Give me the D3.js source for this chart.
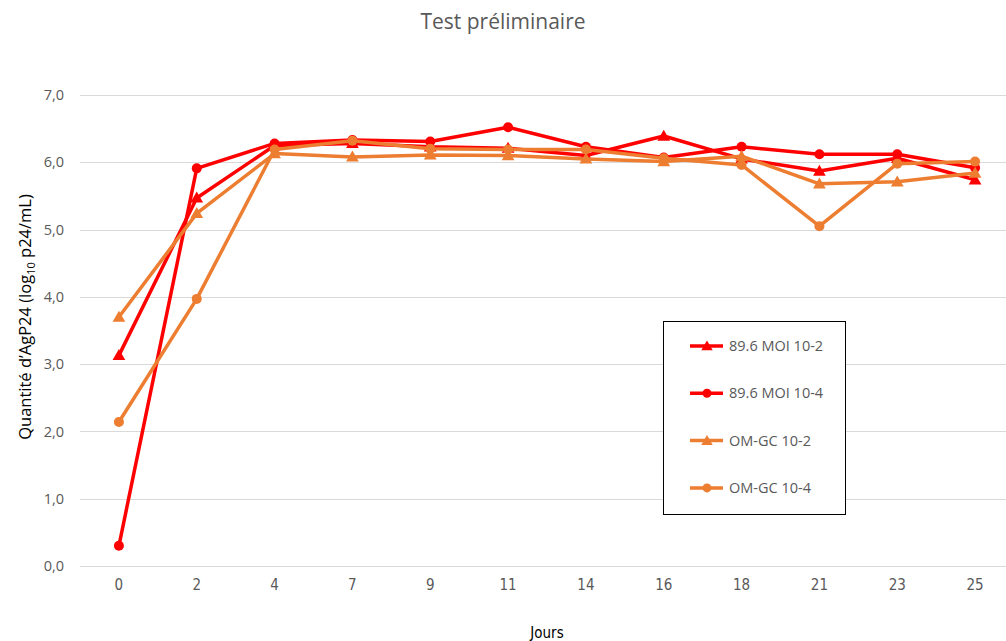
<!DOCTYPE html>
<html>
<head>
<meta charset="utf-8">
<script src="https://cdn.jsdelivr.net/npm/d3@7"></script>
<style>
  html, body { margin: 0; padding: 0; background: #fff; }
  svg { display: block; }
</style>
</head>
<body>
<svg id="chart" width="1006" height="641"></svg>
<script>
// Days of sampling (categorical x axis)
const days = ["0", "2", "4", "7", "9", "11", "14", "16", "18", "21", "23", "25"];

// p24 quantity, log10 p24/mL
const moi102 = [3.13, 5.47, 6.25, 6.28, 6.23, 6.21, 6.10, 6.39, 6.05, 5.87, 6.06, 5.74];
const moi104 = [0.30, 5.91, 6.28, 6.33, 6.31, 6.52, 6.23, 6.07, 6.23, 6.12, 6.12, 5.92];
const omgc102 = [3.70, 5.24, 6.13, 6.08, 6.11, 6.10, 6.05, 6.01, 6.09, 5.68, 5.71, 5.84];
const omgc104 = [2.14, 3.97, 6.19, 6.32, 6.20, 6.19, 6.19, 6.06, 5.96, 5.05, 5.98, 6.01];

const seriesNames = ["89.6 MOI 10-2", "89.6 MOI 10-4", "OM-GC 10-2", "OM-GC 10-4"];
const yTicks = [0, 1, 2, 3, 4, 5, 6, 7];

const series = [
  { name: seriesNames[0], values: moi102, color: "#FF0000", marker: "triangle" },
  { name: seriesNames[1], values: moi104, color: "#FF0000", marker: "circle" },
  { name: seriesNames[2], values: omgc102, color: "#ED7D31", marker: "triangle" },
  { name: seriesNames[3], values: omgc104, color: "#ED7D31", marker: "circle" }
];

const svg = d3.select("#chart");
const textColor = "#595959";
const font = "'Open Sans', 'Noto Sans', sans-serif";
const narrow = "'DejaVu Sans Condensed', 'Liberation Sans Narrow', sans-serif";

const x = d3.scaleBand().domain(days).range([80, 1014]);
const y = d3.scaleLinear().domain([0, 7]).range([566, 95]);
const cx = d => x(d) + x.bandwidth() / 2;

// Horizontal gridlines
svg.append("g")
  .selectAll("line")
  .data(yTicks)
  .join("line")
  .attr("x1", 80).attr("x2", 1006)
  .attr("y1", d => Math.round(y(d)) + 0.5)
  .attr("y2", d => Math.round(y(d)) + 0.5)
  .attr("stroke", "#D9D9D9")
  .attr("stroke-width", 1);

// Y axis tick labels
const yAxis = d3.axisLeft(y).tickValues(yTicks).tickSize(0).tickPadding(0)
  .tickFormat(d => d3.format(".1f")(d).replace(".", ","));
const gy = svg.append("g").attr("transform", "translate(64,0)").call(yAxis);
gy.select(".domain").remove();
gy.selectAll("text")
  .attr("fill", textColor)
  .style("font-family", font)
  .style("font-size", "14.5px");

// X axis tick labels
const xAxis = d3.axisBottom(x).tickSize(0).tickPadding(0);
const gx = svg.append("g").attr("transform", "translate(0,579)").call(xAxis);
gx.select(".domain").remove();
gx.selectAll("text")
  .attr("fill", textColor)
  .style("font-family", narrow)
  .style("font-size", "15px");

// Title
svg.append("text")
  .attr("x", 503).attr("y", 29)
  .attr("text-anchor", "middle")
  .attr("fill", textColor)
  .style("font-family", font)
  .style("font-size", "21px")
  .text("Test préliminaire");

// Axis titles
svg.append("text")
  .attr("x", (80 + 1014) / 2).attr("y", 638)
  .attr("text-anchor", "middle")
  .attr("fill", "#000")
  .style("font-family", narrow)
  .style("font-size", "15px")
  .text("Jours");

const yLab = svg.append("text")
  .attr("transform", "translate(31,317) rotate(-90)")
  .attr("text-anchor", "middle")
  .attr("fill", "#000")
  .style("font-family", font)
  .style("font-size", "16.5px");
yLab.append("tspan").text("Quantité d’AgP24 (log");
yLab.append("tspan").attr("dy", 3.5).style("font-size", "11px").text("10");
yLab.append("tspan").attr("dy", -3.5).text(" p24/mL)");

// Marker symbols
const drawMarker = (g, s, px, py, scale) => {
  if (s.marker === "circle") {
    g.append("circle").attr("cx", px).attr("cy", py).attr("r", 5 * scale).attr("fill", s.color);
  } else {
    g.append("path")
      .attr("d", d3.symbol().type(d3.symbolTriangle).size(70 * scale * scale)())
      .attr("transform", `translate(${px},${py + 1})`)
      .attr("fill", s.color);
  }
};

const line = d3.line().x((d, i) => cx(days[i])).y(d => y(d));

// Series lines and markers
series.forEach(s => {
  const g = svg.append("g");
  g.append("path")
    .datum(s.values)
    .attr("d", line)
    .attr("fill", "none")
    .attr("stroke", s.color)
    .attr("stroke-width", 3.5)
    .attr("stroke-linejoin", "round");
  s.values.forEach((v, i) => drawMarker(g, s, cx(days[i]), y(v), 1));
});

// Legend
const legend = svg.append("g");
legend.append("rect")
  .attr("x", 663.5).attr("y", 321.5)
  .attr("width", 182).attr("height", 193)
  .attr("fill", "#fff")
  .attr("stroke", "#000")
  .attr("stroke-width", 1);
series.forEach((s, i) => {
  const ly = 346 + i * 47.3;
  legend.append("line")
    .attr("x1", 690).attr("x2", 723)
    .attr("y1", ly).attr("y2", ly)
    .attr("stroke", s.color).attr("stroke-width", 3.5);
  drawMarker(legend, s, 707, ly, 0.9);
  legend.append("text")
    .attr("x", 729).attr("y", ly + 5)
    .attr("fill", textColor)
    .style("font-family", font)
    .style("font-size", "14.5px")
    .text(s.name);
});
</script>
</body>
</html>
